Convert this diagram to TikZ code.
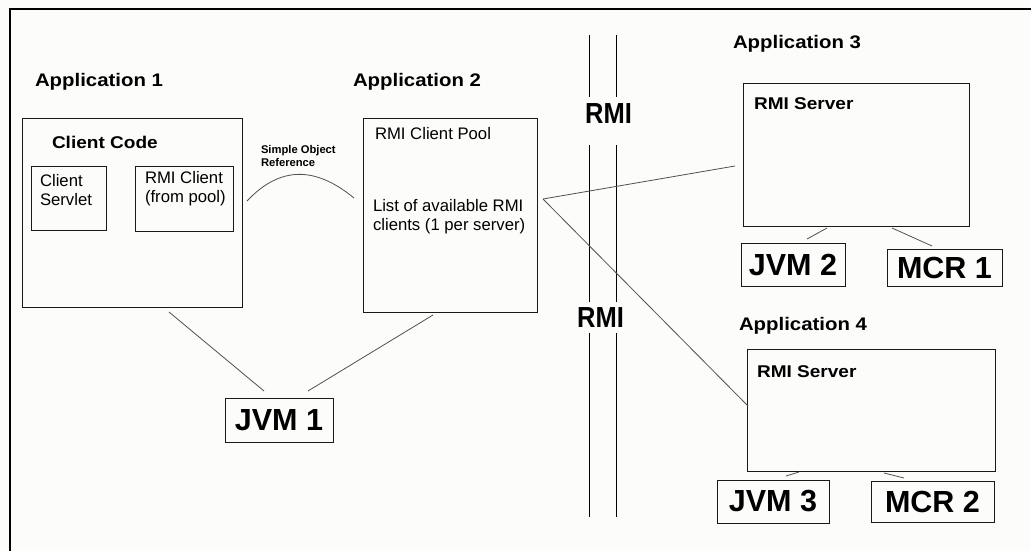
\documentclass[tikz,border=0pt]{standalone}
\usepackage{fontspec}
\setmainfont{Liberation Sans}
\newfontfamily\wideb[FakeStretch=1.12]{Liberation Sans}
\newfontfamily\narrowb[FakeStretch=0.88]{Liberation Sans}
\usetikzlibrary{calc}
\definecolor{bg}{HTML}{FCFDFB}
\definecolor{ln}{HTML}{505050}
\tikzset{
  box/.style={draw=black!90, line width=0.9pt, inner sep=0pt, outer sep=0pt},
  conn/.style={draw=ln, line width=0.8pt},
  rmiline/.style={draw=black, line width=0.9pt},
  lbl/.style={anchor=base west, inner sep=0pt, outer sep=0pt},
  apptext/.style={lbl, font=\wideb\bfseries\fontsize{18.2}{22}\selectfont},
  headtext/.style={lbl, font=\wideb\bfseries\fontsize{17}{20}\selectfont},
  plaintext/.style={lbl, font=\fontsize{16.7}{20}\selectfont},
  smalltext/.style={lbl, font=\bfseries\fontsize{11.2}{13}\selectfont},
  bigbox/.style={box, font=\bfseries\fontsize{30.5}{36}\selectfont},
  rmitext/.style={anchor=base, inner sep=0pt, font=\narrowb\bfseries\fontsize{29}{34}\selectfont}
}
\begin{document}
\begin{tikzpicture}[x=1pt,y=-1pt]
\fill[bg] (0,0) rectangle (1031,551);
\useasboundingbox (0,0) rectangle (1031,551);
% outer frame
\draw[line width=1.3pt] (10,552) -- (10,9) -- (1032,9);

% boxes
\node[box, minimum width=220pt, minimum height=189pt] (cc) at (132,212.5) {};
\node[box, minimum width=75pt, minimum height=64pt] (servlet) at (68.5,198) {};
\node[box, minimum width=98pt, minimum height=65pt] (rmic) at (184,198.5) {};
\node[box, minimum width=174pt, minimum height=194pt] (pool) at (450,215) {};
\node[bigbox, minimum width=108pt, minimum height=44pt] (jvm1) at (279,420) {JVM 1};
\node[box, minimum width=226pt, minimum height=143pt] (s3) at (856,154.5) {};
\node[bigbox, minimum width=104pt, minimum height=43pt] (jvm2) at (793,264.5) {JVM 2};
\node[bigbox, minimum width=115pt, minimum height=37pt] (mcr1) at (944.5,267.5) {MCR 1};
\node[box, minimum width=248pt, minimum height=122pt] (s4) at (871,410) {};
\node[bigbox, minimum width=112pt, minimum height=43pt] (jvm3) at (773,501.5) {JVM 3};
\node[bigbox, minimum width=123pt, minimum height=41pt] (mcr2) at (932.5,501.5) {MCR 2};

% texts
\node[apptext] (app1) at (35,87) {Application 1};
\node[apptext] (app2) at (353,87) {Application 2};
\node[apptext] (app3) at (733,49) {Application 3};
\node[apptext] (app4) at (739,330) {Application 4};
\node[headtext] (cctext) at (52,148) {Client Code};
\node[plaintext] (sv1) at (40,186) {Client};
\node[plaintext] (sv2) at (40,205) {Servlet};
\node[plaintext] (rc1) at (145,183) {RMI Client};
\node[plaintext] (rc2) at (145,202) {(from pool)};
\node[smalltext] (so1) at (261,153) {Simple Object};
\node[smalltext] (so2) at (261,166) {Reference};
\node[plaintext] (pooltext) at (375,139) {RMI Client Pool};
\node[plaintext] (list1) at (373,211) {List of available RMI};
\node[plaintext] (list2) at (373,230) {clients (1 per server)};
\node[headtext] (s3text) at (754,110) {RMI Server};
\node[headtext] (s4text) at (757,377) {RMI Server};
\node[rmitext] (rmi1) at (608.5,123) {RMI};
\node[rmitext] (rmi2) at (600.5,327) {RMI};

% RMI channel lines
\draw[rmiline] (589,35) -- (589,97) (616,35) -- (616,97);
\draw[rmiline] (589,145) -- (589,302) (616,145) -- (616,302);
\draw[rmiline] (589,333) -- (589,517) (616,333) -- (616,517);

% connectors
\draw[conn] ([shift={(5,83)}]cc.north east) .. controls ([shift={(38,48)}]cc.north east) and ([shift={(73,48)}]cc.north east) .. ([shift={(-9,80)}]pool.north west);
\coordinate (pj) at ([shift={(6,81)}]pool.north east);
\draw[conn] (pj) -- ([shift={(-8,83)}]s3.north west);
\draw[conn] (pj) -- ([shift={(1,57)}]s4.north west);
\draw[conn] ([shift={(147,5)}]cc.south west) -- ([shift={(39,-7)}]jvm1.north west);
\draw[conn] ([shift={(70,3)}]pool.south west) -- ([shift={(83,-7)}]jvm1.north west);
\draw[conn] ([shift={(84,2)}]s3.south west) -- ([shift={(66,-4)}]jvm2.north west);
\draw[conn] ([shift={(149,2)}]s3.south west) -- ([shift={(45,-3)}]mcr1.north west);
\draw[conn] ([shift={(52,1)}]s4.south west) -- ([shift={(69,-4)}]jvm3.north west);
\draw[conn] ([shift={(137,2)}]s4.south west) -- ([shift={(33,-3)}]mcr2.north west);
\end{tikzpicture}
\end{document}
